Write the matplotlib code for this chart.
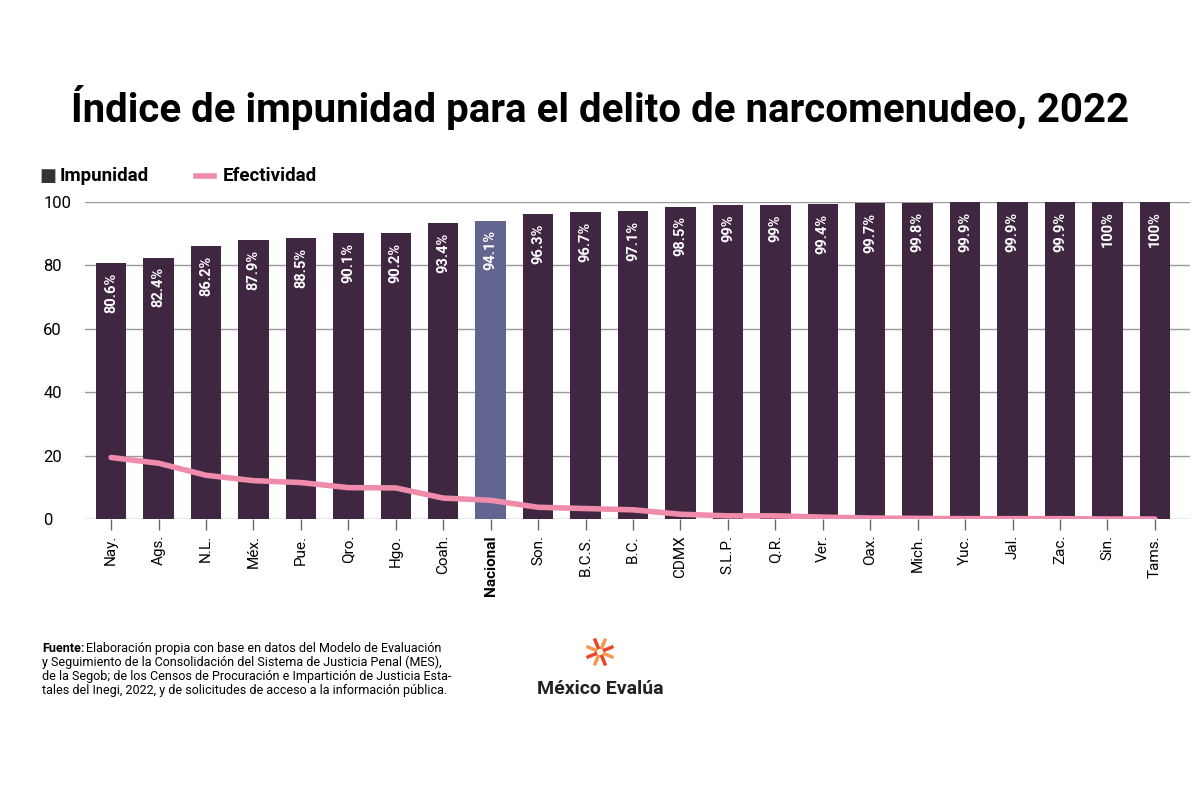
import matplotlib
matplotlib.use("Agg")
import matplotlib.pyplot as plt
import numpy as np

estados = ["Nay.","Ags.","N.L.","Méx.","Pue.","Qro.","Hgo.","Coah.","Nacional","Son.","B.C.S.","B.C.",
           "CDMX","S.L.P.","Q.R.","Ver.","Oax.","Mich.","Yuc.","Jal.","Zac.","Sin.","Tams."]
impunidad = [80.6,82.4,86.2,87.9,88.5,90.1,90.2,93.4,94.1,96.3,96.7,97.1,98.5,99,99,99.4,99.7,99.8,99.9,99.9,99.9,100,100]
etiquetas = ["80.6%","82.4%","86.2%","87.9%","88.5%","90.1%","90.2%","93.4%","94.1%","96.3%","96.7%","97.1%",
             "98.5%","99%","99%","99.4%","99.7%","99.8%","99.9%","99.9%","99.9%","100%","100%"]
efectividad = [19.4,17.6,13.8,12.1,11.5,9.9,9.8,6.6,5.9,3.7,3.3,2.9,1.5,1.0,1.0,0.6,0.3,0.2,0.1,0.1,0.1,0.0,0.0]

plt.rcParams['font.family'] = ['Roboto', 'DejaVu Sans']
fig = plt.figure(figsize=(12, 8), dpi=100)
ax = fig.add_axes([85/1200, 1-519/800, 1105/1200, 317/800])
x = np.arange(len(estados))
colors = ["#636591" if e == "Nacional" else "#3f2742" for e in estados]
ax.bar(x, impunidad, width=0.64, color=colors, zorder=2)
ax.plot(x, efectividad, color="#f08cab", lw=4, zorder=3, solid_capstyle='round')
for xi, v, t in zip(x, impunidad, etiquetas):
    ax.text(xi, v - 3, t, rotation=90, ha='center', va='top', color='white',
            fontsize=10.5, fontweight='bold', zorder=4)
ax.set_xlim(-0.55, 22.74)
ax.set_ylim(0, 100)
ax.set_yticks([0, 20, 40, 60, 80, 100])
ax.yaxis.grid(True, color="#999999", lw=1, zorder=0)
ax.set_axisbelow(True)
for s in ax.spines.values():
    s.set_visible(False)
ax.tick_params(axis='y', length=0, labelsize=12, pad=30)
for lab in ax.get_yticklabels():
    lab.set_horizontalalignment('left')
ax.set_xticks(x)
ax.set_xticklabels(estados, rotation=90, fontsize=11)
ax.tick_params(axis='x', length=8, color="#666666", width=1)
for lab in ax.get_xticklabels():
    if lab.get_text() == "Nacional":
        lab.set_fontweight('bold')

fig.text(0.5, 0.865, "Índice de impunidad para el delito de narcomenudeo, 2022",
         ha='center', va='center', fontsize=29, fontweight='bold')
fig.text(0.033, 0.78, "■", fontsize=13, va='center', color="#333333")
fig.text(0.05, 0.78, "Impunidad", fontsize=13.5, fontweight='bold', va='center')
fig.add_artist(plt.Line2D([0.163, 0.178], [0.78, 0.78], color="#f08cab", lw=4))
fig.text(0.186, 0.78, "Efectividad", fontsize=13.5, fontweight='bold', va='center')

fx, fy = 0.035, 1 - 652/800
dy = 14/800
fig.text(fx, fy, "Fuente:", fontsize=9, fontweight='bold', va='baseline')
fig.text(fx + 0.037, fy, "Elaboración propia con base en datos del Modelo de Evaluación",
         fontsize=9, va='baseline')
rest = ["y Seguimiento de la Consolidación del Sistema de Justicia Penal (MES),",
        "de la Segob; de los Censos de Procuración e Impartición de Justicia Esta-",
        "tales del Inegi, 2022, y de solicitudes de acceso a la información pública."]
for i, line in enumerate(rest):
    fig.text(fx, fy - (i + 1)*dy, line, fontsize=9, va='baseline')
fig.text(0.5, 0.139, "México Evalúa", fontsize=14, fontweight='bold', va='center', ha='center', color="#222222")
lx, ly = 0.5, 0.185
ang = np.linspace(0, 2*np.pi, 9)[:-1] + np.pi/8
for i, a in enumerate(ang):
    c = "#e8442c" if i % 2 == 0 else "#f39a4a"
    fig.add_artist(plt.Line2D([lx + 0.006*np.cos(a)*0.67, lx + 0.016*np.cos(a)*0.67],
                              [ly + 0.006*np.sin(a), ly + 0.016*np.sin(a)], color=c, lw=2.5))
fig.savefig("out.png", dpi=100, facecolor='white')
